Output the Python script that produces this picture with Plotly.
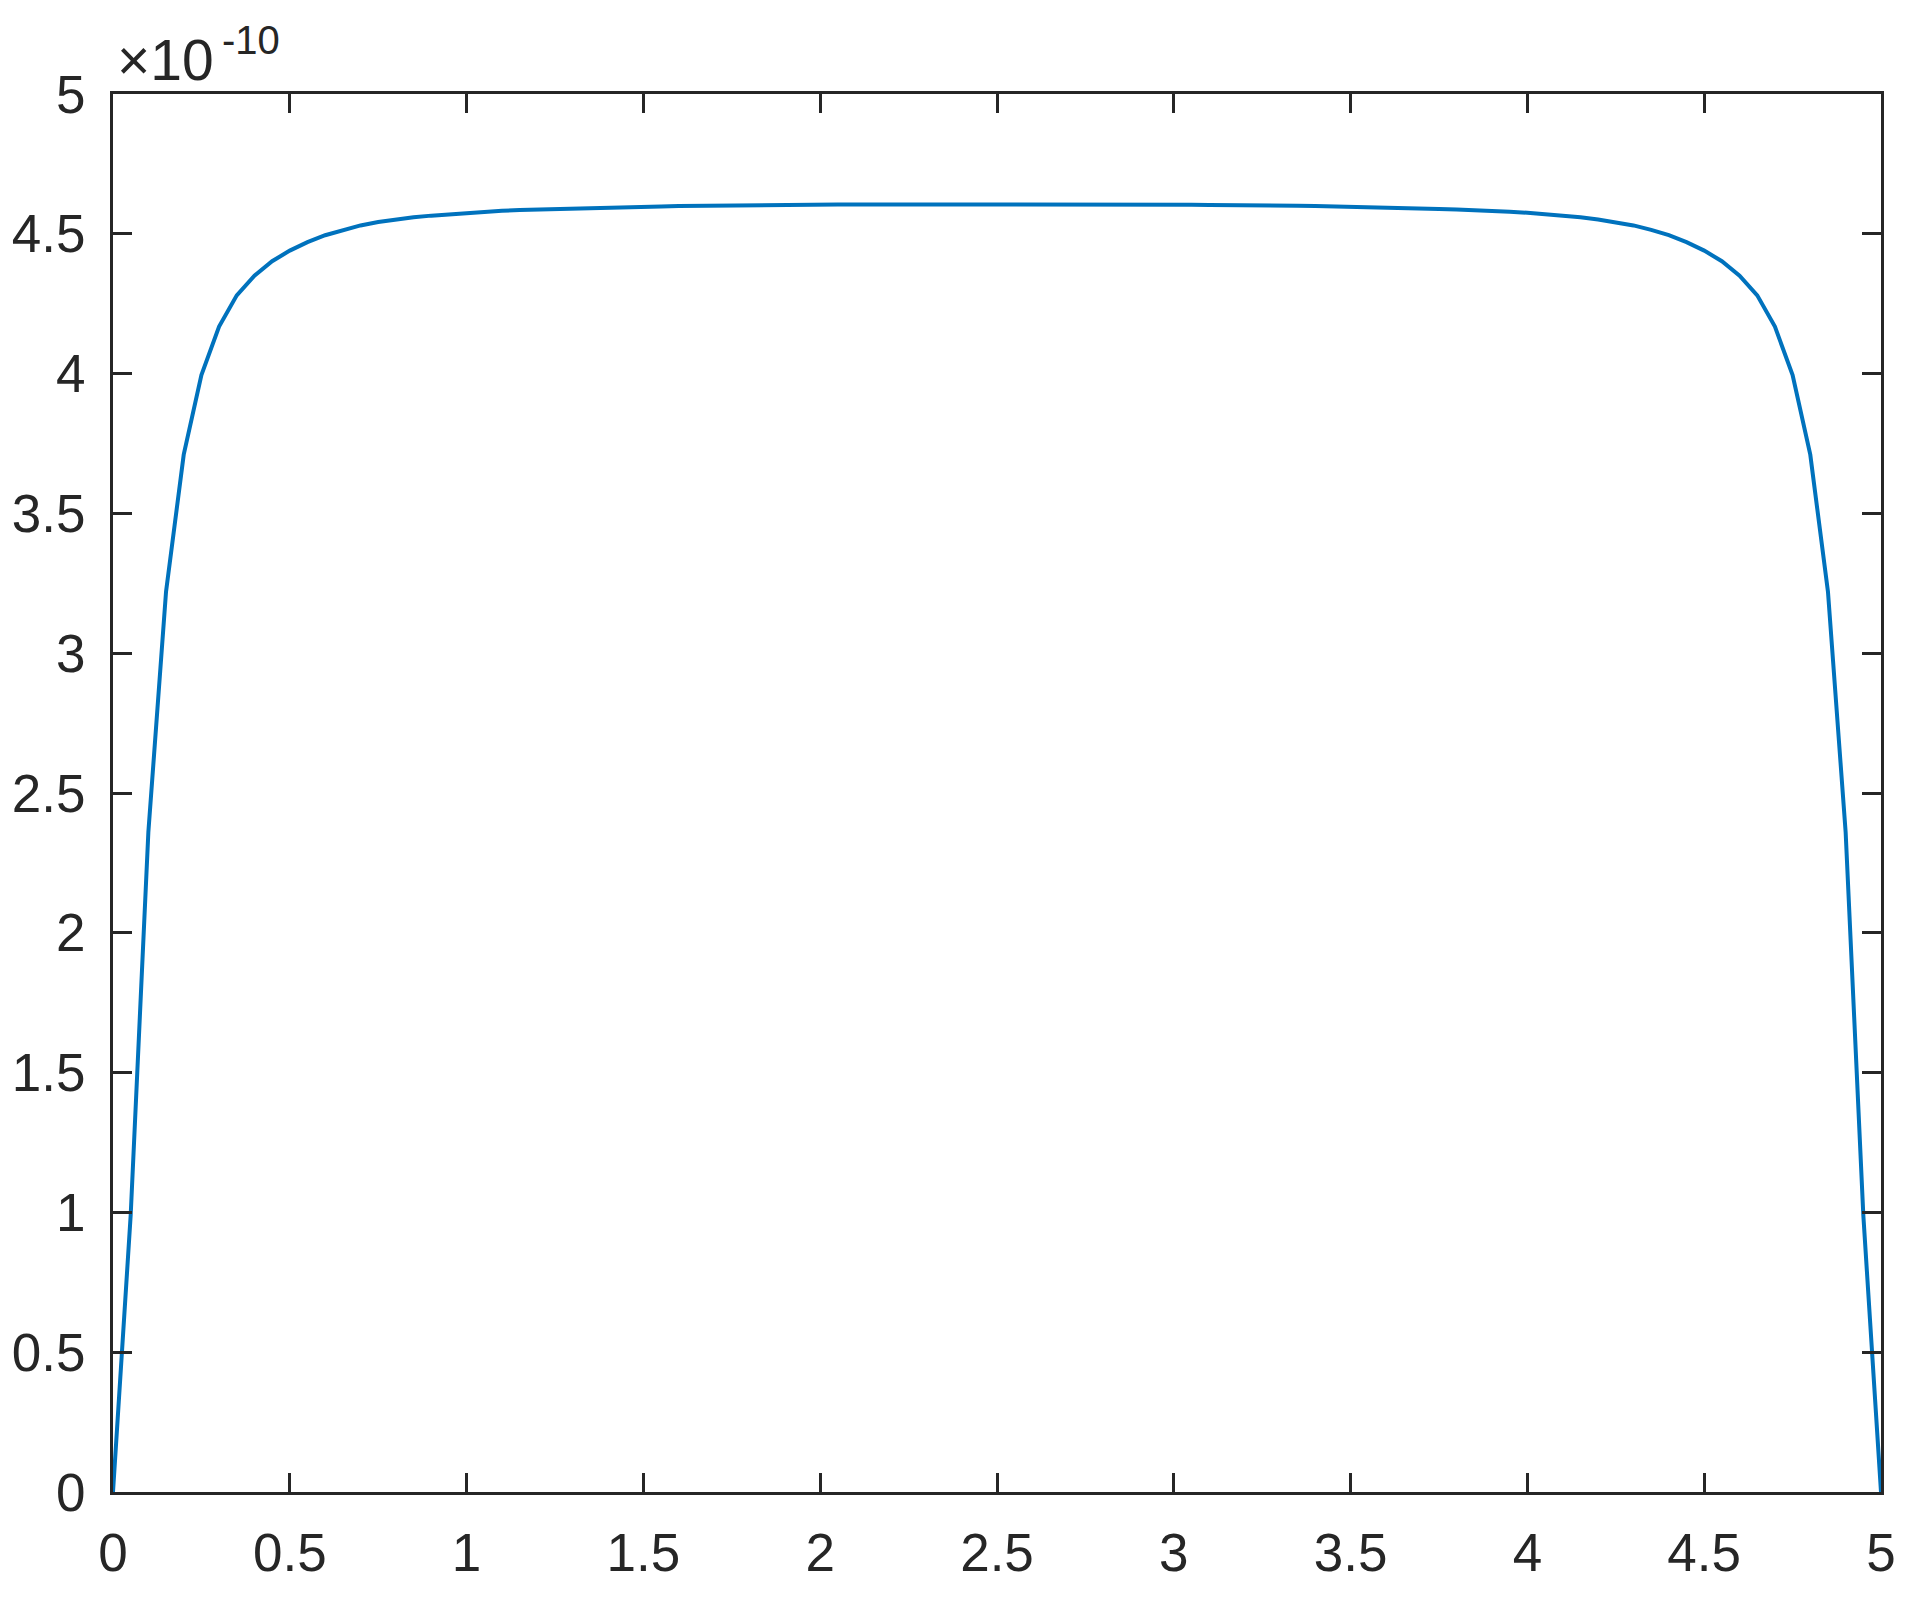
import plotly.graph_objects as go

# x samples (step 0.05) and profile values in units of 1e-10
x_vals = [
    0.00, 0.05, 0.10, 0.15, 0.20, 0.25, 0.30, 0.35, 0.40, 0.45,
    0.50, 0.55, 0.60, 0.65, 0.70, 0.75, 0.80, 0.85, 0.90, 0.95,
    1.00, 1.05, 1.10, 1.15, 1.20, 1.25, 1.30, 1.35, 1.40, 1.45,
    1.50, 1.55, 1.60, 1.65, 1.70, 1.75, 1.80, 1.85, 1.90, 1.95,
    2.00, 2.05, 2.10, 2.15, 2.20, 2.25, 2.30, 2.35, 2.40, 2.45,
    2.50, 2.55, 2.60, 2.65, 2.70, 2.75, 2.80, 2.85, 2.90, 2.95,
    3.00, 3.05, 3.10, 3.15, 3.20, 3.25, 3.30, 3.35, 3.40, 3.45,
    3.50, 3.55, 3.60, 3.65, 3.70, 3.75, 3.80, 3.85, 3.90, 3.95,
    4.00, 4.05, 4.10, 4.15, 4.20, 4.25, 4.30, 4.35, 4.40, 4.45,
    4.50, 4.55, 4.60, 4.65, 4.70, 4.75, 4.80, 4.85, 4.90, 4.95,
    5.00,
]
y_vals = [
    0.000, 0.990, 2.360, 3.220, 3.710, 3.995, 4.168, 4.280, 4.350, 4.402,
    4.440, 4.470, 4.495, 4.514, 4.530, 4.542, 4.551, 4.559, 4.565, 4.570,
    4.575, 4.579, 4.582, 4.585, 4.587, 4.589, 4.591, 4.593, 4.594, 4.595,
    4.597, 4.598, 4.599, 4.600, 4.601, 4.601, 4.602, 4.603, 4.603, 4.604,
    4.604, 4.605, 4.605, 4.605, 4.606, 4.606, 4.606, 4.606, 4.607, 4.607,
    4.607, 4.607, 4.607, 4.606, 4.606, 4.606, 4.606, 4.605, 4.605, 4.605,
    4.604, 4.604, 4.603, 4.603, 4.602, 4.601, 4.601, 4.600, 4.599, 4.598,
    4.597, 4.595, 4.594, 4.593, 4.591, 4.589, 4.587, 4.585, 4.582, 4.579,
    4.575, 4.570, 4.565, 4.559, 4.551, 4.542, 4.530, 4.514, 4.495, 4.470,
    4.440, 4.402, 4.350, 4.280, 4.168, 3.995, 3.710, 3.220, 2.360, 0.990,
    0.000,
]
x_ticks = [0, 0.5, 1, 1.5, 2, 2.5, 3, 3.5, 4, 4.5, 5]
y_ticks = [0, 0.5, 1, 1.5, 2, 2.5, 3, 3.5, 4, 4.5, 5]
tick_labels = ["0", "0.5", "1", "1.5", "2", "2.5", "3", "3.5", "4", "4.5", "5"]

AXIS_COLOR = "#262626"
FONT = "Liberation Sans, Arial, Helvetica, sans-serif"

fig = go.Figure()

fig.add_trace(go.Scatter(
    x=x_vals,
    y=y_vals,
    mode="lines",
    line=dict(color="#0072BD", width=4),
    showlegend=False,
))

axis_style = dict(
    showline=True,
    linecolor=AXIS_COLOR,
    linewidth=3,
    mirror="ticks",
    ticks="inside",
    ticklen=19,
    tickwidth=2.5,
    tickcolor=AXIS_COLOR,
    showgrid=False,
    zeroline=False,
    automargin=False,
    tickfont=dict(family=FONT, size=53, color=AXIS_COLOR),
)

fig.update_xaxes(range=[0, 5], tickvals=x_ticks, ticktext=tick_labels,
                 ticklabelstandoff=12, **axis_style)
fig.update_yaxes(range=[0, 5], tickvals=y_ticks, ticktext=tick_labels,
                 ticklabelstandoff=14, **axis_style)

# exponent label above the y axis
fig.add_annotation(
    text="×10", xref="paper", yref="paper", x=0.0010, y=1.0240,
    xanchor="left", yanchor="middle", showarrow=False,
    font=dict(family=FONT, size=57, color=AXIS_COLOR),
)
fig.add_annotation(
    text="-10", xref="paper", yref="paper", x=0.0605, y=1.0385,
    xanchor="left", yanchor="middle", showarrow=False,
    font=dict(family=FONT, size=40, color=AXIS_COLOR),
)

# page body has an 8px margin, so the figure is 16px smaller than the window
fig.update_layout(
    width=1916,
    height=1601,
    margin=dict(l=105, r=43, t=86, b=117),
    plot_bgcolor="white",
    paper_bgcolor="white",
    font=dict(family=FONT, color=AXIS_COLOR),
)

fig.write_html("out.html")
